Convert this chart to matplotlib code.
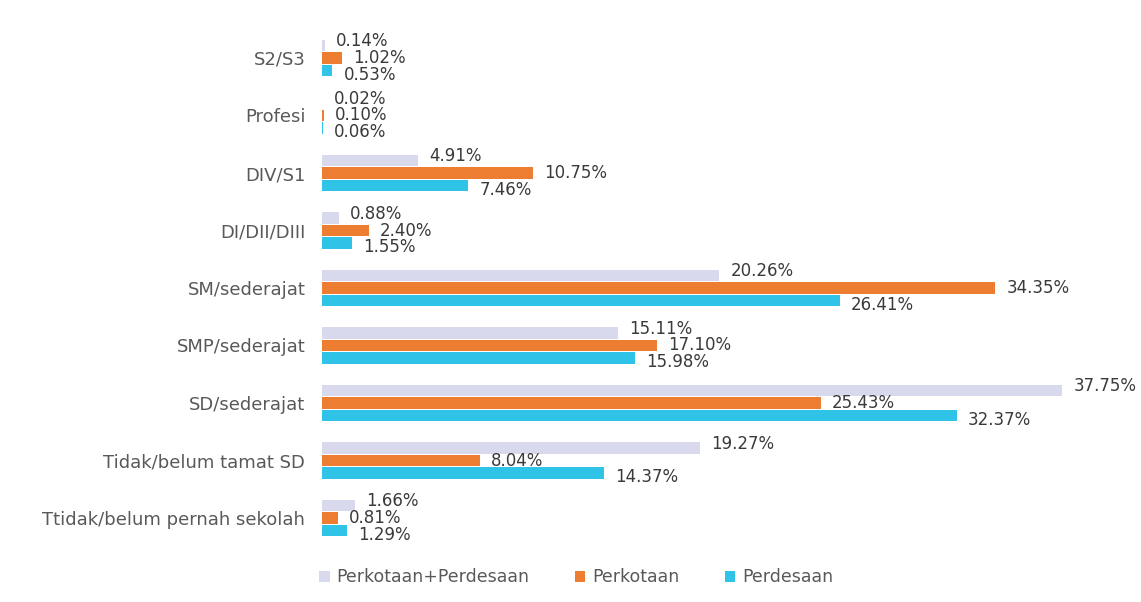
import numpy as np
import matplotlib.pyplot as plt

categories = ['Ttidak/belum pernah sekolah', 'Tidak/belum tamat SD', 'SD/sederajat',
              'SMP/sederajat', 'SM/sederajat', 'DI/DII/DIII', 'DIV/S1', 'Profesi', 'S2/S3']
total = [1.66, 19.27, 37.75, 15.11, 20.26, 0.88, 4.91, 0.02, 0.14]
kota = [0.81, 8.04, 25.43, 17.10, 34.35, 2.40, 10.75, 0.10, 1.02]
desa = [1.29, 14.37, 32.37, 15.98, 26.41, 1.55, 7.46, 0.06, 0.53]
series_names = ['Perkotaan+Perdesaan', 'Perkotaan', 'Perdesaan']

colors = ['#D9D9EE', '#ED7D31', '#30C3E8']
grey = '#595959'

plt.rcParams['font.family'] = ['DejaVu Sans']

fig = plt.figure(figsize=(11.41, 6.02), dpi=100)
ax = fig.add_axes([322/1141, 1 - 552.5/602, 794/1141, 529/602])

y = np.arange(len(categories))
h = 0.2
offs = [0.22, 0.0, -0.22]
label_dy = [3, 0, -3]
for vals, off, col, name, dy in zip([total, kota, desa], offs, colors, series_names, label_dy):
    bars = ax.barh(y + off, vals, height=h, color=col, label=name)
    for b, v in zip(bars, vals):
        ax.annotate('%.2f%%' % v, (b.get_width(), b.get_y() + h/2),
                    xytext=(8, dy), textcoords='offset points',
                    ha='left', va='center', fontsize=12, color='#3a3a3a')

ax.set_xlim(0, 40.5)
ax.set_ylim(-0.6, 8.6)
ax.set_yticks(y)
ax.set_yticklabels(categories, fontsize=13, color=grey)
ax.tick_params(axis='y', length=0, pad=12)
ax.set_xticks([])
for s in ax.spines.values():
    s.set_visible(False)

fig.legend(loc='lower center', bbox_to_anchor=(0.505, 0.0), ncol=3, frameon=False,
           fontsize=12.5, labelcolor=grey, handlelength=0.6, handleheight=0.6,
           columnspacing=2.6, handletextpad=0.4)

fig.savefig('out.png', dpi=100)
